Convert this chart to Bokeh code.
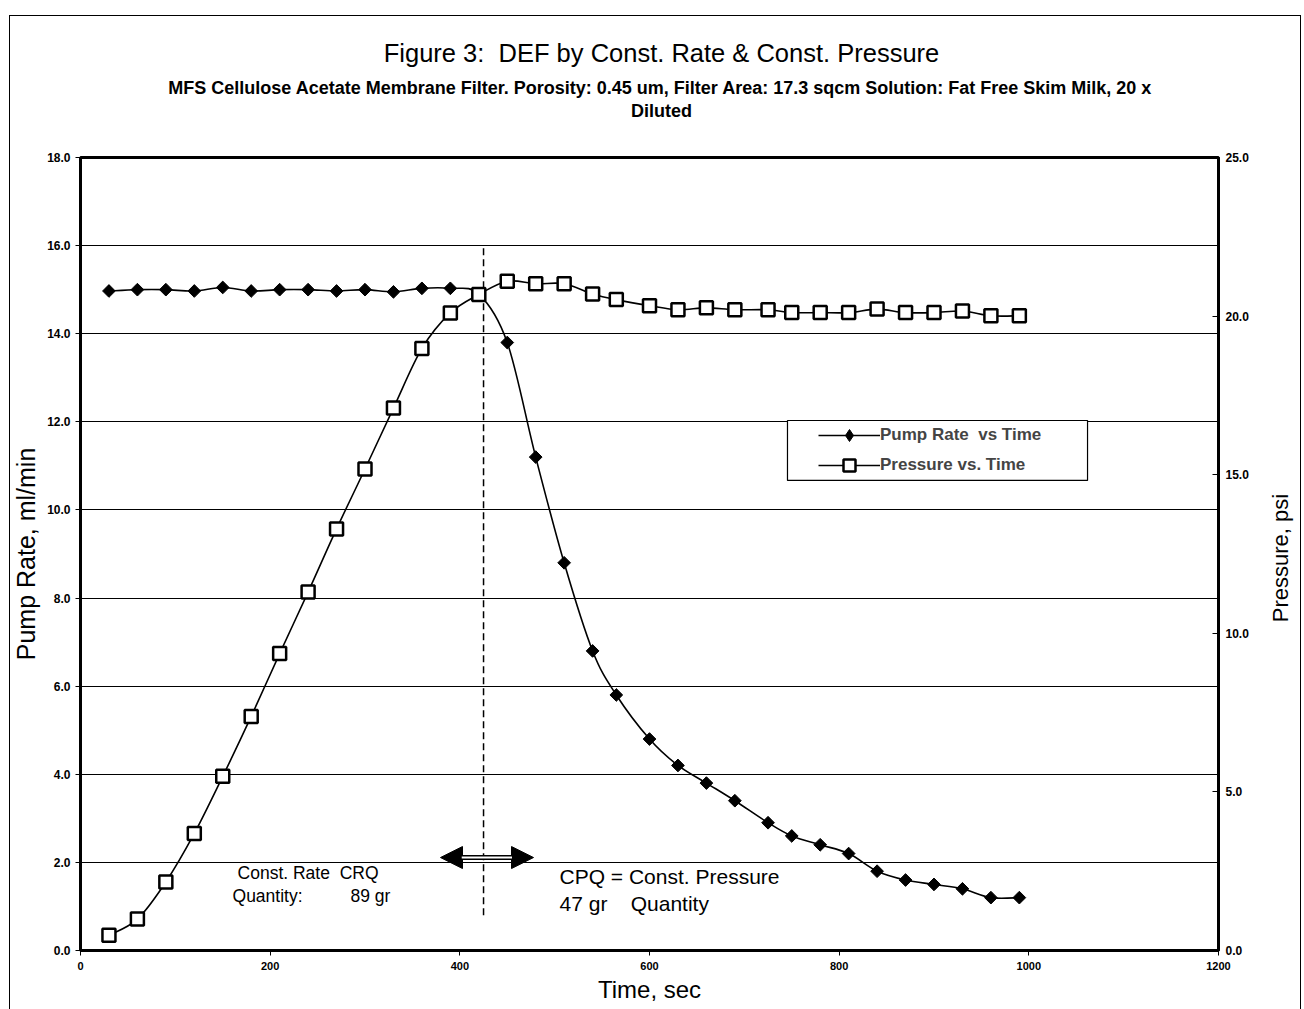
import numpy as np
from bokeh.plotting import figure
from bokeh.layouts import column, row
from bokeh.models import (Range1d, LinearAxis, FixedTicker, NumeralTickFormatter, Label,
                          BoxAnnotation, Arrow, NormalHead, Legend, LegendItem, ColumnDataSource,
                          InlineStyleSheet)
from bokeh.embed import file_html
from bokeh.resources import INLINE

# ---------------- data ----------------
time_s = [30, 60, 90, 120, 150, 180, 210, 240, 270, 300, 330, 360, 390, 420,
          450, 480, 510, 540, 565, 600, 630, 660, 690, 725, 750, 780, 810, 840,
          870, 900, 930, 960, 990]
pump_rate = [14.97, 15.0, 15.0, 14.97, 15.05, 14.97, 15.0, 15.0, 14.97, 15.0, 14.95,
             15.03, 15.03, 14.9, 13.8, 11.2, 8.8, 6.8, 5.8, 4.8, 4.2, 3.8, 3.4, 2.9,
             2.6, 2.4, 2.2, 1.8, 1.6, 1.5, 1.4, 1.2, 1.2]
pressure = [0.48, 0.99, 2.16, 3.69, 5.49, 7.38, 9.36, 11.30, 13.29, 15.18, 17.10,
            18.98, 20.10, 20.68, 21.10, 21.02, 21.02, 20.70, 20.52, 20.33, 20.20,
            20.26, 20.20, 20.20, 20.11, 20.11, 20.11, 20.22, 20.11, 20.11, 20.16,
            20.01, 20.01]

left_ticks = [0, 2, 4, 6, 8, 10, 12, 14, 16, 18]
right_ticks = [0, 5, 10, 15, 20, 25]
bottom_ticks = [0, 200, 400, 600, 800, 1000, 1200]

NB = "\u00a0"
title_text = "Figure 3:" + NB + NB + "DEF by Const. Rate & Const. Pressure"
subtitle_1 = ("MFS Cellulose Acetate Membrane Filter. Porosity: 0.45 um, Filter Area: 17.3 sqcm "
              "Solution: Fat Free Skim Milk, 20 x")
subtitle_2 = "Diluted"
right_label = "Pressure, psi"
switch_time = 425

FONT = "Liberation Sans"
W = 1304
HEAD_H = 130
MAIN_H = 1009 - HEAD_H
STRIP_W = 42
MAIN_W = W - STRIP_W


def smooth_segments(xs, ys, k=1.0 / 6.0):
    """Cubic Bezier segments through the points (Excel-like smoothed line)."""
    x = np.asarray(xs, float)
    y = np.asarray(ys, float)
    n = len(x)
    i = np.arange(n - 1)
    im1 = np.clip(i - 1, 0, n - 1)
    i2 = np.clip(i + 2, 0, n - 1)
    return dict(
        x0=x[i], y0=y[i], x1=x[i + 1], y1=y[i + 1],
        cx0=x[i] + (x[i + 1] - x[im1]) * k, cy0=y[i] + (y[i + 1] - y[im1]) * k,
        cx1=x[i + 1] - (x[i2] - x[i]) * k, cy1=y[i + 1] - (y[i2] - y[i]) * k,
    )


def blank_panel(w, h):
    f = figure(width=w, height=h, x_range=Range1d(0, w), y_range=Range1d(h, 0),
               output_backend="svg", toolbar_location=None, x_axis_type=None, y_axis_type=None,
               min_border_left=0, min_border_right=0, min_border_top=0, min_border_bottom=0)
    f.grid.visible = False
    f.outline_line_color = None
    f.background_fill_color = "white"
    f.border_fill_color = "white"
    return f


# ---------------- header (titles), pixel coordinates ----------------
hdr = blank_panel(W, HEAD_H)


def hlab(x, y, text, size, style="normal"):
    hdr.add_layout(Label(x=x, y=y, text=text, text_font=FONT, text_font_size=size,
                         text_font_style=style, text_align="center", text_baseline="middle",
                         text_color="black"))


hlab(661, 52, title_text, "25.5px")
hlab(660, 87, subtitle_1, "18px", "bold")
hlab(661, 110, subtitle_2, "18px", "bold")

# ---------------- right strip with the secondary axis title ----------------
strip = blank_panel(STRIP_W, MAIN_H)
strip.add_layout(Label(x=18, y=574 - HEAD_H, text=right_label, angle=np.pi / 2,
                       text_font=FONT, text_font_size="22px", text_align="center",
                       text_baseline="middle", text_color="black"))

# ---------------- main chart ----------------
p = figure(width=MAIN_W, height=MAIN_H, x_range=Range1d(0, 1200), y_range=Range1d(0, 18),
           output_backend="svg", toolbar_location=None,
           min_border_left=80, min_border_right=MAIN_W - 1218, min_border_top=157 - HEAD_H,
           min_border_bottom=59)
p.extra_y_ranges = {"press": Range1d(0, 25)}
p.background_fill_color = "white"
p.border_fill_color = "white"
p.outline_line_color = "black"
p.outline_line_width = 3

# grid
p.xgrid.visible = False
p.ygrid.ticker = FixedTicker(ticks=left_ticks)
p.ygrid.grid_line_color = "black"
p.ygrid.grid_line_width = 1

# axes
ry = LinearAxis(y_range_name="press", ticker=FixedTicker(ticks=right_ticks),
                formatter=NumeralTickFormatter(format="0.0"))
p.add_layout(ry, "right")

for ax in (p.xaxis[0], p.yaxis[0], ry):
    ax.axis_line_width = 3
    ax.axis_line_color = "black"
    ax.major_tick_line_color = "black"
    ax.major_tick_line_width = 1
    ax.major_tick_out = 5
    ax.major_tick_in = 0
    ax.minor_tick_line_color = None
    ax.major_label_text_font = FONT
    ax.major_label_text_font_style = "bold"
    ax.major_label_text_color = "black"
    ax.axis_label_text_font = FONT
    ax.axis_label_text_font_style = "normal"
    ax.axis_label_text_color = "black"

p.xaxis[0].ticker = FixedTicker(ticks=bottom_ticks)
p.xaxis[0].formatter = NumeralTickFormatter(format="0")
p.xaxis[0].major_label_text_font_size = "11px"
p.xaxis[0].major_label_standoff = 6
p.xaxis[0].axis_label = "Time, sec"
p.xaxis[0].axis_label_text_font_size = "24px"
p.xaxis[0].axis_label_standoff = 3

p.yaxis[0].ticker = FixedTicker(ticks=left_ticks)
p.yaxis[0].formatter = NumeralTickFormatter(format="0.0")
p.yaxis[0].major_label_text_font_size = "12px"
p.yaxis[0].major_label_standoff = 5
p.yaxis[0].axis_label = "Pump Rate, ml/min"
p.yaxis[0].axis_label_text_font_size = "25px"
p.yaxis[0].axis_label_standoff = 4

ry.major_tick_out = 0
ry.major_tick_in = 6
ry.major_label_text_font_size = "12px"
ry.major_label_standoff = 7

# switch-over dashed line
p.segment(x0=[switch_time], y0=[0.8], x1=[switch_time], y1=[16],
          line_color="black", line_width=1.5, line_dash="7 4")

# series
pump_src = ColumnDataSource(smooth_segments(time_s, pump_rate))
press_src = ColumnDataSource(smooth_segments(time_s, pressure))

pump_line = p.bezier(x0="x0", y0="y0", x1="x1", y1="y1", cx0="cx0", cy0="cy0", cx1="cx1",
                     cy1="cy1", source=pump_src, line_color="black", line_width=1.6)
p.scatter(time_s, pump_rate, marker="square", angle=np.pi / 4, size=9,
          fill_color="black", line_color="black", line_width=1)
# diamond glyph used for the legend key (sits hidden inside the first marker)
pump_key = p.scatter(time_s[:1], pump_rate[:1], marker="diamond", size=11,
                     fill_color="black", line_color="black", line_width=1)
press_line = p.bezier(x0="x0", y0="y0", x1="x1", y1="y1", cx0="cx0", cy0="cy0", cx1="cx1",
                      cy1="cy1", source=press_src, line_color="black", line_width=1.6,
                      y_range_name="press")
press_pts = p.scatter(time_s, pressure, marker="square", size=13, fill_color="white",
                      line_color="black", line_width=2.5, y_range_name="press")

# legend
p.add_layout(BoxAnnotation(left=745.5, right=1061.9, top=12.03, bottom=10.67,
                           fill_color="white", fill_alpha=1, line_color="black",
                           line_alpha=1, line_width=1.2))
legend = Legend(items=[LegendItem(label="Pump Rate" + NB + NB + "vs Time",
                                  renderers=[pump_line, pump_key]),
                       LegendItem(label="Pressure vs. Time", renderers=[press_line, press_pts])],
                location=(738, 470), padding=0, spacing=0, label_height=30, glyph_height=30,
                glyph_width=62, label_standoff=0, border_line_alpha=0, background_fill_alpha=0,
                label_text_font=FONT, label_text_font_style="bold", label_text_font_size="17px",
                margin=0)
p.add_layout(legend, "center")

# double arrow
p.add_layout(Arrow(start=NormalHead(size=22, fill_color="black", line_color="black"),
                   end=NormalHead(size=22, fill_color="black", line_color="black"),
                   x_start=379.6, y_start=2.11, x_end=477.7, y_end=2.11,
                   line_color="black", line_width=5))
p.add_layout(Arrow(end=None, x_start=402, y_start=2.11, x_end=455, y_end=2.11,
                   line_color="white", line_width=2))


# texts inside the plot
def lab(x, y, text, size, align="left", style="normal"):
    p.add_layout(Label(x=x, y=y, text=text, text_font=FONT, text_font_size=size,
                       text_font_style=style, text_align=align, text_baseline="middle",
                       text_color="black"))


lab(165.6, 1.75, "Const. Rate" + NB + NB + "CRQ", "17.5px")
lab(160.3, 1.23, "Quantity:", "17.5px")
lab(284.7, 1.23, "89 gr", "17.5px")
lab(505.1, 1.68, "CPQ = Const. Pressure", "21px")
lab(505.1, 1.07, "47 gr" + NB * 4 + "Quantity", "21px")

page = column(hdr, row(p, strip, spacing=0), spacing=0)
# page border (thin frame around the whole chart, open at the bottom)
page.stylesheets = [InlineStyleSheet(css=(
    ":host::after { content: ''; position: absolute; left: 9px; top: 15px; width: 1290px; "
    "height: 1010px; border: 1px solid black; border-bottom: none; pointer-events: none; "
    "z-index: 50; }"))]

open("out.html", "w").write(file_html(page, INLINE))
